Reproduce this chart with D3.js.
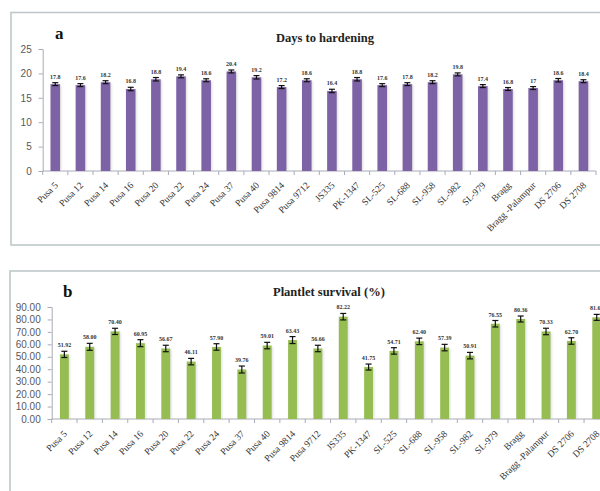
<!DOCTYPE html>
<html>
<head>
<meta charset="utf-8">
<script src="https://cdn.jsdelivr.net/npm/d3@7"></script>
<style>
  html, body { margin: 0; padding: 0; background: #fff; }
  svg { display: block; }
</style>
</head>
<body>
<svg id="chart" width="600" height="491"></svg>
<script>
// Genotypes shared by both panels
const genotypes = ["Pusa 5", "Pusa 12", "Pusa 14", "Pusa 16", "Pusa 20", "Pusa 22", "Pusa 24",
  "Pusa 37", "Pusa 40", "Pusa 9814", "Pusa 9712", "JS335", "PK-1347", "SL-525", "SL-688",
  "SL-958", "SL-982", "SL-979", "Bragg", "Bragg -Palampur", "DS 2706", "DS 2708"];

// Panel a: days to hardening (mean and standard error)
const hardeningDays = [17.8, 17.6, 18.2, 16.8, 18.8, 19.4, 18.6, 20.4, 19.2, 17.2, 18.6,
  16.4, 18.8, 17.6, 17.8, 18.2, 19.8, 17.4, 16.8, 17, 18.6, 18.4];
const hardeningErr = [0.3, 0.3, 0.3, 0.35, 0.35, 0.3, 0.3, 0.3, 0.35, 0.3, 0.3,
  0.35, 0.35, 0.3, 0.3, 0.3, 0.3, 0.3, 0.3, 0.3, 0.35, 0.3];
const hardeningLabels = ["17.8", "17.6", "18.2", "16.8", "18.8", "19.4", "18.6", "20.4", "19.2",
  "17.2", "18.6", "16.4", "18.8", "17.6", "17.8", "18.2", "19.8", "17.4", "16.8", "17", "18.6", "18.4"];
const hardeningTicks = [0, 5, 10, 15, 20, 25];

// Panel b: plantlet survival (%) (mean and standard error)
const survival = [51.92, 58.00, 70.40, 60.95, 56.67, 46.11, 57.90, 39.76, 59.01, 63.43, 56.66,
  82.22, 41.75, 54.71, 62.40, 57.39, 50.91, 76.55, 80.36, 70.33, 62.70, 81.67];
const survivalErr = [2.5, 2.8, 2.5, 2.8, 2.6, 2.6, 2.6, 2.8, 2.6, 2.8, 2.6,
  2.6, 2.4, 2.6, 2.6, 2.6, 2.6, 2.6, 2.4, 2.6, 2.6, 2.4];
const survivalLabels = ["51.92", "58.00", "70.40", "60.95", "56.67", "46.11", "57.90", "39.76",
  "59.01", "63.43", "56.66", "82.22", "41.75", "54.71", "62.40", "57.39", "50.91", "76.55",
  "80.36", "70.33", "62.70", "81.67"];
const survivalTicks = [0, 10, 20, 30, 40, 50, 60, 70, 80, 90];

const svg = d3.select("#chart");

const defs = svg.append("defs");
const blur = defs.append("filter").attr("id", "soft").attr("x", "-20%").attr("y", "-20%")
  .attr("width", "140%").attr("height", "140%");
blur.append("feGaussianBlur").attr("stdDeviation", 0.8);

function panel(opts) {
  const g = svg.append("g");

  // panel frame
  g.append("rect")
    .attr("x", opts.frame[0]).attr("y", opts.frame[1])
    .attr("width", opts.frame[2]).attr("height", opts.frame[3])
    .attr("fill", "#fff").attr("stroke", "#bfc7ca").attr("stroke-width", 1.6);

  const x = d3.scaleBand().domain(genotypes).range(opts.xRange)
    .paddingInner(opts.pad).paddingOuter(opts.pad / 2);
  const y = d3.scaleLinear().domain(opts.yDomain).range(opts.yRange);
  const axisY = y(0);

  // y axis
  const ya = g.append("g").attr("transform", `translate(${opts.xRange[0]},0)`)
    .call(d3.axisLeft(y).tickValues(opts.ticks).tickSize(4).tickPadding(7)
      .tickFormat(opts.tickFmt));
  ya.select(".domain").attr("stroke", "#a9acb8");
  ya.selectAll(".tick line").attr("stroke", "#a9acb8");
  ya.selectAll(".tick text").attr("fill", "#595959")
    .style("font-family", "'Liberation Sans', Arial, sans-serif").style("font-size", "10px");

  // x axis: tick marks between categories
  g.append("line")
    .attr("x1", opts.xRange[0]).attr("x2", opts.xRange[1])
    .attr("y1", axisY).attr("y2", axisY)
    .attr("stroke", "#a9acb8").attr("stroke-width", 1);
  const bounds = d3.range(genotypes.length + 1).map(i => opts.xRange[0] + i * x.step());
  g.selectAll(".xtick").data(bounds).join("line")
    .attr("x1", d => d).attr("x2", d => d)
    .attr("y1", axisY).attr("y2", axisY + 4)
    .attr("stroke", "#a9acb8");

  const data = genotypes.map((k, i) => ({ k, v: opts.values[i], e: opts.errs[i], lab: opts.labels[i] }));

  // bar shadows
  g.selectAll(".shadow").data(data).join("rect")
    .attr("x", d => x(d.k) + 1.2).attr("y", d => y(d.v) + 1)
    .attr("width", x.bandwidth()).attr("height", d => axisY - y(d.v) - 1)
    .attr("fill", "#c8c8c8").attr("opacity", 0.6).attr("filter", "url(#soft)");

  // bars
  g.selectAll(".bar").data(data).join("rect")
    .attr("x", d => x(d.k)).attr("y", d => y(d.v))
    .attr("width", x.bandwidth()).attr("height", d => axisY - y(d.v))
    .attr("fill", opts.color);

  // error bars
  const eb = g.selectAll(".err").data(data).join("g")
    .attr("stroke", "#111").attr("stroke-width", 1.2);
  eb.append("line")
    .attr("x1", d => x(d.k) + x.bandwidth() / 2).attr("x2", d => x(d.k) + x.bandwidth() / 2)
    .attr("y1", d => y(d.v + d.e)).attr("y2", d => y(d.v - d.e));
  ["+", "-"].forEach(s => {
    eb.append("line")
      .attr("x1", d => x(d.k) + x.bandwidth() / 2 - 3).attr("x2", d => x(d.k) + x.bandwidth() / 2 + 3)
      .attr("y1", d => y(s === "+" ? d.v + d.e : d.v - d.e))
      .attr("y2", d => y(s === "+" ? d.v + d.e : d.v - d.e));
  });

  // value labels
  g.selectAll(".val").data(data).join("text")
    .attr("x", d => x(d.k) + x.bandwidth() / 2)
    .attr("y", d => y(d.v + d.e) - opts.labelGap)
    .attr("text-anchor", "middle")
    .attr("fill", "#333")
    .style("font-family", "'Liberation Serif', 'Times New Roman', serif")
    .style("font-size", "6px").style("font-weight", "bold")
    .text(d => d.lab);

  // category labels, rotated
  g.selectAll(".cat").data(genotypes).join("text")
    .attr("transform", d => `translate(${x(d) + x.bandwidth() / 2 + 1},${axisY + opts.catOffset}) rotate(-45)`)
    .attr("dy", "0.35em")
    .attr("text-anchor", "end")
    .attr("fill", "#333")
    .style("font-family", "'Liberation Serif', 'Times New Roman', serif")
    .style("font-size", "9.5px")
    .text(d => d);

  // panel letter and title
  g.append("text").attr("x", opts.letterPos[0]).attr("y", opts.letterPos[1])
    .attr("fill", "#111")
    .style("font-family", "'Liberation Serif', 'Times New Roman', serif")
    .style("font-size", "17px").style("font-weight", "bold")
    .text(opts.letter);
  g.append("text").attr("x", opts.titlePos[0]).attr("y", opts.titlePos[1])
    .attr("fill", "#222")
    .style("font-family", "'Liberation Serif', 'Times New Roman', serif")
    .style("font-size", "12.5px").style("font-weight", "bold")
    .text(opts.title);
}

panel({
  frame: [11, 12.5, 600, 232.5],
  xRange: [42.7, 596],
  yDomain: [0, 25], yRange: [171, 49],
  ticks: hardeningTicks, tickFmt: d3.format("d"),
  pad: 0.62,
  values: hardeningDays, errs: hardeningErr, labels: hardeningLabels,
  color: "#7e62a6",
  labelGap: 4,
  catOffset: 12.5,
  letter: "a", letterPos: [55, 39],
  title: "Days  to hardening", titlePos: [276, 41.5]
});

panel({
  frame: [10, 271, 600, 300],
  xRange: [51.7, 609.4],
  yDomain: [0, 90], yRange: [419, 307],
  ticks: survivalTicks, tickFmt: d3.format(".2f"),
  pad: 0.65,
  values: survival, errs: survivalErr, labels: survivalLabels,
  color: "#95bd52",
  labelGap: 4,
  catOffset: 13,
  letter: "b", letterPos: [63, 297],
  title: "Plantlet survival (%)", titlePos: [273, 296]
});
</script>
</body>
</html>
